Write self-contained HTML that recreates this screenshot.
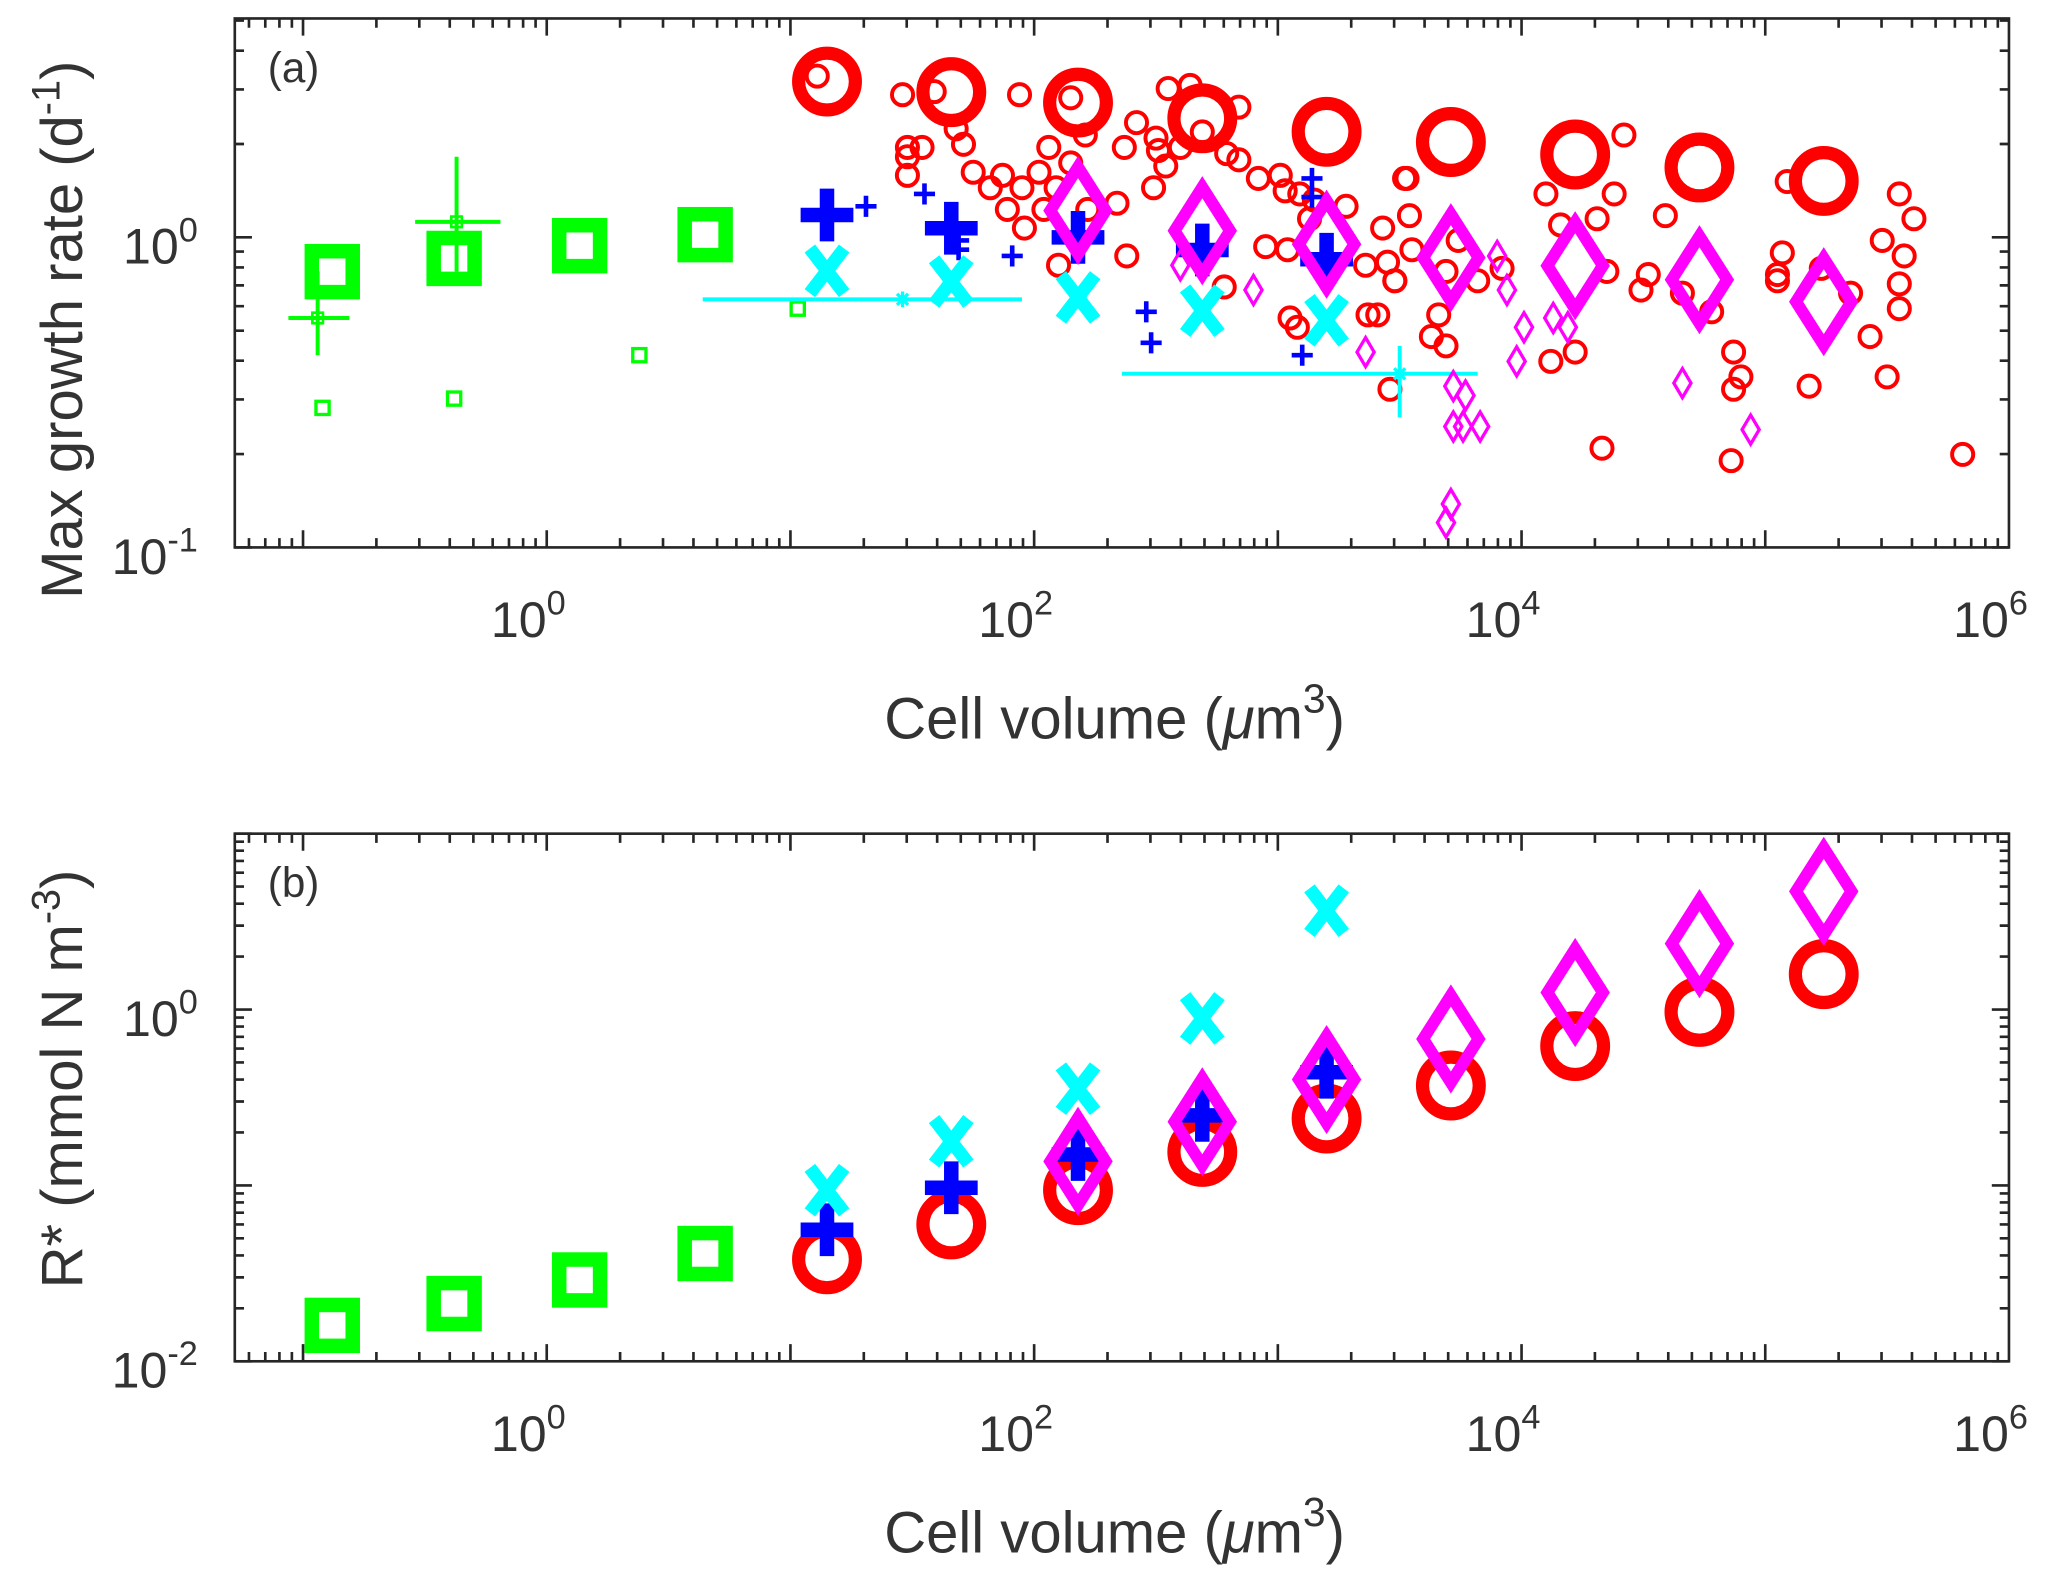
<!DOCTYPE html>
<html><head><meta charset="utf-8">
<style>
html,body{margin:0;padding:0;background:#fff;}
svg{display:block;}
text{font-family:"Liberation Sans",sans-serif;fill:#333;}
</style></head>
<body>
<svg id="fig" width="2067" height="1580" viewBox="0 0 1567 1197.8" xmlns="http://www.w3.org/2000/svg">
<rect width="1567" height="1197.8" fill="#fff"/>
<g id="pa"></g>
<g id="pb"></g>
</svg>
<script>
// ---- shared size classes (log10 cell volume) ----
const sqLogV = [-0.88, -0.38, 0.135, 0.65];
const bigLogV = [1.15, 1.66, 2.18, 2.69, 3.2, 3.71, 4.22, 4.73, 5.24];
// ---- panel a: max growth rate (d^-1) ----
const aSquareMu = [0.775, 0.855, 0.94, 1.02];
const aCircleMu = [3.18, 2.94, 2.72, 2.42, 2.19, 2.03, 1.85, 1.68, 1.52];
const aPlusMu = [1.18, 1.07, 1.0, 0.91, 0.85];
const aCrossMu = [0.78, 0.72, 0.64, 0.58, 0.54];
const aDiamondMu = [1.22, 1.05, 0.95, 0.86, 0.81, 0.73, 0.62];
// observations (log10 volume, log10 rate)
const obsCircLogV = [1.11,1.46,1.59,1.94,1.68,1.71,1.48,1.54,1.48,1.48,1.75,1.87,1.82,1.95,1.89,1.96,2.02,2.06,2.15,2.21,2.15,2.09,2.04,2.22,2.34,2.10,2.38,2.37,2.42,2.50,2.51,2.54,2.49,2.55,2.64,2.84,2.60,2.69,2.79,2.84,2.92,3.01,3.03,3.09,3.15,3.13,3.28,2.95,3.04,2.78,3.05,3.08,3.37,3.41,3.36,3.45,3.48,3.43,3.53,3.46,3.52,3.54,3.55,3.48,3.74,3.69,3.82,3.92,3.66,3.63,3.69,4.10,4.16,4.31,4.38,4.42,4.35,4.12,4.22,4.33,4.52,4.49,4.59,4.66,4.78,4.87,4.90,4.87,4.86,5.07,5.05,5.05,5.09,5.18,5.23,5.35,5.43,5.50,5.48,5.57,5.55,5.55,5.55,5.61,5.81];
const obsCircLogMu = [0.52,0.46,0.47,0.46,0.35,0.30,0.29,0.29,0.26,0.20,0.21,0.20,0.16,0.16,0.09,0.03,0.21,0.29,0.45,0.33,0.24,0.16,0.09,0.09,0.11,-0.09,-0.06,0.29,0.37,0.32,0.28,0.23,0.16,0.48,0.49,0.42,0.29,0.34,0.27,0.25,0.19,0.20,0.15,0.14,0.12,0.06,0.10,-0.03,-0.04,-0.16,-0.26,-0.29,-0.25,-0.25,-0.09,-0.08,-0.14,0.03,0.19,-0.49,0.19,0.07,-0.04,-0.14,-0.01,-0.11,-0.14,-0.10,-0.25,-0.32,-0.35,0.14,0.04,0.06,0.14,0.33,-0.11,-0.40,-0.37,-0.68,-0.12,-0.17,0.07,-0.18,-0.24,-0.37,-0.45,-0.49,-0.72,-0.05,-0.12,-0.14,0.18,-0.48,-0.10,-0.18,-0.32,-0.45,-0.01,-0.06,-0.15,-0.23,0.14,0.06,-0.70];
const obsPlusLogV = [1.31,1.55,1.69,1.69,1.91,2.46,2.48,3.10,3.14,3.14];
const obsPlusLogMu = [0.10,0.14,-0.04,-0.01,-0.06,-0.24,-0.34,-0.38,0.19,0.13];
const obsDiaLogV = [2.60,2.90,3.36,3.90,3.94,4.01,4.13,4.19,3.98,3.72,3.77,3.76,3.83,3.72,3.71,3.69,4.66,4.94];
const obsDiaLogMu = [-0.09,-0.17,-0.37,-0.06,-0.17,-0.29,-0.26,-0.29,-0.40,-0.48,-0.51,-0.61,-0.61,-0.61,-0.86,-0.92,-0.47,-0.62];
const obsSqLogV = [-0.92,-0.38,0.38,1.03];
const obsSqLogMu = [-0.55,-0.52,-0.38,-0.23];
const greenErrLogV = [-0.94, -0.37];
const greenErrLogMu = [-0.26, 0.05];
const greenErrXlo = [-1.06, -0.54], greenErrXhi = [-0.81, -0.19];
const greenErrYlo = [-0.38, -0.11], greenErrYhi = [-0.11, 0.26];
const cyanErrLogV = [1.46, 3.50];
const cyanErrLogMu = [-0.20, -0.44];
const cyanErrXlo = [0.64, 2.36], cyanErrXhi = [1.95, 3.82];
const cyanErrYlo = [-0.20, -0.58], cyanErrYhi = [-0.20, -0.35];
// ---- panel b: R* (mmol N m^-3) ----
const bSquareR = [0.016, 0.0213, 0.029, 0.041];
const bCircleR = [0.038, 0.060, 0.094, 0.155, 0.24, 0.37, 0.62, 0.97, 1.59];
const bPlusR = [0.056, 0.097, 0.15, 0.25, 0.44];
const bCrossR = [0.094, 0.178, 0.355, 0.89, 3.65];
const bDiamondR = [0.137, 0.23, 0.40, 0.68, 1.25, 2.37, 4.7];

const NS = 'http://www.w3.org/2000/svg';
const RED = '#ff0000', GREEN = '#00ff00', BLUE = '#0000ff', CYAN = '#00ffff', MAG = '#ff00ff', AX = '#262626';
function mk(parent, tag, attrs) {
  const e = document.createElementNS(NS, tag);
  for (const k in attrs) e.setAttribute(k, attrs[k]);
  parent.appendChild(e);
  return e;
}
const L = 178, R = 1523;
const xMin = -1.28, xMax = 6;
function X(lv) { return L + (lv - xMin) / (xMax - xMin) * (R - L); }
function makeY(top, bot, lmin, lmax) {
  return lv => bot - (lv - lmin) / (lmax - lmin) * (bot - top);
}
function circle(g, x, y, r, sw, name) {
  const e = mk(g, 'circle', {cx: x, cy: y, r: r, fill: 'none', stroke: RED, 'stroke-width': sw});
  
  
}
function square(g, x, y, s, sw, name) {
  const e = mk(g, 'rect', {x: x - s/2, y: y - s/2, width: s, height: s, fill: 'none', stroke: GREEN, 'stroke-width': sw});
  
  
}
function plus(g, x, y, h, sw, col, name) {
  const e = mk(g, 'path', {d: `M${x-h},${y}H${x+h}M${x},${y-h}V${y+h}`, stroke: col, 'stroke-width': sw, fill: 'none'});
  
  
}
function cross(g, x, y, h, sw, name) {
  const e = mk(g, 'path', {d: `M${x-h},${y-h*1.3}L${x+h},${y+h*1.3}M${x+h},${y-h*1.3}L${x-h},${y+h*1.3}`, stroke: CYAN, 'stroke-width': sw, fill: 'none'});
  
  
}
function diamond(g, x, y, w, h, sw, name) {
  const e = mk(g, 'path', {d: `M${x},${y-h}L${x+w},${y}L${x},${y+h}L${x-w},${y}Z`, stroke: MAG, 'stroke-width': sw, fill: 'none'});
  
  
}
function star(g, x, y, h, name) {
  const e = mk(g, 'path', {d: `M${x-h},${y}H${x+h}M${x},${y-h}V${y+h}M${x-h*0.7},${y-h*0.7}L${x+h*0.7},${y+h*0.7}M${x+h*0.7},${y-h*0.7}L${x-h*0.7},${y+h*0.7}`, stroke: CYAN, 'stroke-width': 2.5, fill: 'none'});
  
  
}
function errbar(g, xlo, xhi, yc, xc, ylo, yhi, col, name) {
  const e = mk(g, 'path', {d: `M${xlo},${yc}H${xhi}M${xc},${ylo}V${yhi}`, stroke: col, 'stroke-width': 3, fill: 'none'});
  
  
}
function label10(g, x, y, exp, anchor, name) {
  const t = mk(g, 'text', {x: x, y: y, 'font-size': 38, 'text-anchor': anchor});
  
  
  t.textContent = '10';
  const s = mk(t, 'tspan', {dy: -17, 'font-size': 26});
  s.textContent = exp;
}

function axes(g, top, bot, Y, yMinorDecades, yLabels, ylabelFn, panelLabel) {
  const fr = mk(g, 'rect', {x: L, y: top, width: R - L, height: bot - top, fill: 'none', stroke: AX, 'stroke-width': 2});
  
  
  let d = '';
  for (let dec = -2; dec <= 5; dec++) {
    for (let m = 1; m <= 9; m++) {
      const lv = dec + Math.log10(m);
      if (lv < xMin || lv > xMax) continue;
      const x = X(lv), len = m === 1 ? 13 : 7;
      d += `M${x},${bot}V${bot-len}M${x},${top}V${top+len}`;
    }
  }
  for (const dec of yMinorDecades) {
    for (let m = 1; m <= 9; m++) {
      const lv = dec + Math.log10(m);
      const y = Y(lv);
      if (y < top - 0.5 || y > bot + 0.5) continue;
      const len = m === 1 ? 13 : 7;
      d += `M${L},${y}H${L+len}M${R},${y}H${R-len}`;
    }
  }
  const tk = mk(g, 'path', {d: d, stroke: AX, 'stroke-width': 2, fill: 'none'});
  
  
  for (const e of [0, 2, 4, 6]) label10(g, X(e) - 14, bot + 68, String(e), 'middle', 'x-tick-label');
  for (const lab of yLabels) label10(g, 150, Y(lab) + 20, String(lab), 'end', 'y-tick-label');
  const pl = mk(g, 'text', {x: 203, y: top + 48, 'font-size': 32});
  
  
  pl.textContent = panelLabel;
  const xt = mk(g, 'text', {x: 845, y: bot + 145, 'font-size': 44, 'text-anchor': 'middle'});
  
  
  xt.textContent = 'Cell volume (';
  const mu = mk(xt, 'tspan', {'font-style': 'italic'}); mu.textContent = 'μ';
  const m2 = mk(xt, 'tspan', {}); m2.textContent = 'm';
  const s3 = mk(xt, 'tspan', {dy: -20, 'font-size': 31}); s3.textContent = '3';
  const cp = mk(xt, 'tspan', {dy: 20}); cp.textContent = ')';
  ylabelFn(g);
}

function drawPanelA() {
  const g = document.getElementById('pa');
  const top = 14, bot = 415;
  const Y = makeY(top, bot, -1, Math.log10(5.08));
  axes(g, top, bot, Y, [-1, 0], [-1, 0], gg => {
    const t = mk(gg, 'text', {x: 0, y: 0, 'font-size': 44, 'text-anchor': 'middle', transform: `translate(62,250) rotate(-90)`});
    
    
    t.textContent = 'Max growth rate (d';
    const s = mk(t, 'tspan', {dy: -17, 'font-size': 30}); s.textContent = '-1';
    const c = mk(t, 'tspan', {dy: 17}); c.textContent = ')';
  }, '(a)');
  obsCircLogV.forEach((v, i) => circle(g, X(v), Y(obsCircLogMu[i]), 8, 3, 'obs-circle'));
  bigLogV.forEach((v, i) => circle(g, X(v), Y(Math.log10(aCircleMu[i])), 21.5, 10, 'model-circle'));
  obsSqLogV.forEach((v, i) => square(g, X(v), Y(obsSqLogMu[i]), 10, 2.5, 'obs-square'));
  greenErrLogV.forEach((v, i) => {
    errbar(g, X(greenErrXlo[i]), X(greenErrXhi[i]), Y(greenErrLogMu[i]), X(v), Y(greenErrYlo[i]), Y(greenErrYhi[i]), GREEN, 'green-errorbar');
    square(g, X(v), Y(greenErrLogMu[i]), 8, 2, 'obs-square-err');
  });
  sqLogV.forEach((v, i) => square(g, X(v), Y(Math.log10(aSquareMu[i])), 31, 11, 'model-square'));
  obsPlusLogV.forEach((v, i) => plus(g, X(v), Y(obsPlusLogMu[i]), 8, 3.5, BLUE, 'obs-plus'));
  aPlusMu.forEach((m, i) => plus(g, X(bigLogV[i]), Y(Math.log10(m)), 20, 11, BLUE, 'model-plus'));
  cyanErrLogV.forEach((v, i) => {
    errbar(g, X(cyanErrXlo[i]), X(cyanErrXhi[i]), Y(cyanErrLogMu[i]), X(v), Y(cyanErrYlo[i]), Y(cyanErrYhi[i]), CYAN, 'cyan-errorbar');
    star(g, X(v), Y(cyanErrLogMu[i]), 6, 'obs-star');
  });
  aCrossMu.forEach((m, i) => cross(g, X(bigLogV[i]), Y(Math.log10(m)), 13, 10, 'model-cross'));
  obsDiaLogV.forEach((v, i) => diamond(g, X(v), Y(obsDiaLogMu[i]), 6.5, 11, 2.5, 'obs-diamond'));
  aDiamondMu.forEach((m, i) => diamond(g, X(bigLogV[i + 2]), Y(Math.log10(m)), 21, 33, 9, 'model-diamond'));
}

function drawPanelB() {
  const g = document.getElementById('pb');
  const top = 632, bot = 1032;
  const Y = makeY(top, bot, -2, 1);
  axes(g, top, bot, Y, [-2, -1, 0, 1], [-2, 0], gg => {
    const t = mk(gg, 'text', {x: 0, y: 0, 'font-size': 44, 'text-anchor': 'middle', transform: `translate(62,818) rotate(-90)`});
    
    
    t.textContent = 'R* (mmol N m';
    const s = mk(t, 'tspan', {dy: -17, 'font-size': 30}); s.textContent = '-3';
    const c = mk(t, 'tspan', {dy: 17}); c.textContent = ')';
  }, '(b)');
  sqLogV.forEach((v, i) => square(g, X(v), Y(Math.log10(bSquareR[i])), 31, 11, 'model-square'));
  bCircleR.forEach((r, i) => circle(g, X(bigLogV[i]), Y(Math.log10(r)), 21.5, 10, 'model-circle'));
  bPlusR.forEach((r, i) => plus(g, X(bigLogV[i]), Y(Math.log10(r)), 20, 11, BLUE, 'model-plus'));
  bCrossR.forEach((r, i) => cross(g, X(bigLogV[i]), Y(Math.log10(r)), 13, 10, 'model-cross'));
  bDiamondR.forEach((r, i) => diamond(g, X(bigLogV[i + 2]), Y(Math.log10(r)), 21, 33, 9, 'model-diamond'));
}
drawPanelA();
drawPanelB();
</script>
</body></html>
